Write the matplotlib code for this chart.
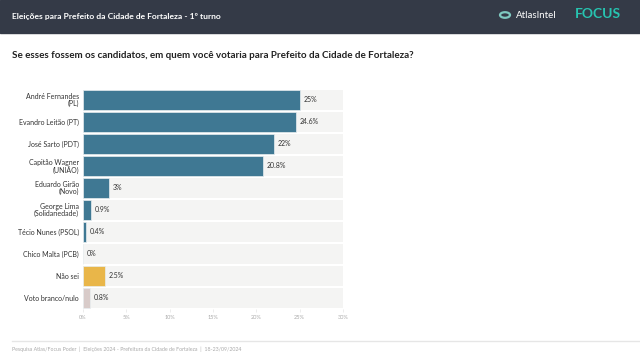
import matplotlib.pyplot as plt
from matplotlib.patches import Rectangle, Circle

plt.rcParams['font.family'] = ['Lato', 'DejaVu Sans']

candidates = ["André Fernandes\n(PL)", "Evandro Leitão (PT)", "José Sarto (PDT)",
              "Capitão Wagner\n(UNIÃO)", "Eduardo Girão\n(Novo)", "George Lima\n(Solidariedade)",
              "Técio Nunes (PSOL)", "Chico Malta (PCB)", "Não sei", "Voto branco/nulo"]
values = [25, 24.6, 22, 20.8, 3, 0.9, 0.4, 0, 2.5, 0.8]
labels = ["25%", "24.6%", "22%", "20.8%", "3%", "0.9%", "0.4%", "0%", "2.5%", "0.8%"]
colors = ["#3f7893"] * 8 + ["#e9b649", "#d8cbc9"]
ticks = [0, 5, 10, 15, 20, 25, 30]

fig = plt.figure(figsize=(6.4, 3.58), dpi=100)

# header band
fig.patches.append(Rectangle((0, 1 - 33 / 358), 1, 33 / 358, transform=fig.transFigure,
                             color="#343a47", zorder=0))
fig.text(12 / 640, 1 - 16 / 358, "Eleições para Prefeito da Cidade de Fortaleza - 1º turno",
         color="white", fontsize=6.1, fontweight="bold", va="center", ha="left")
fig.patches.append(Circle((505 / 640, 1 - 15 / 358), 5 / 640, transform=fig.transFigure,
                          facecolor="none", edgecolor="#7ec8c0", lw=1.6))
fig.text(516 / 640, 1 - 15.5 / 358, "AtlasIntel", color="white", fontsize=7, va="center")
fig.text(575 / 640, 1 - 14 / 358, "FOCUS", color="#27c3b0", fontsize=10, fontweight="bold",
         va="center")

fig.text(12 / 640, 1 - 56 / 358,
         "Se esses fossem os candidatos, em quem você votaria para Prefeito da Cidade de Fortaleza?",
         color="#222222", fontsize=7.1, fontweight="bold", va="center")

ax = fig.add_axes([83 / 640, 1 - 309 / 358, 260 / 640, 220 / 358])
y = list(range(len(candidates)))
ax.barh(y, [30] * len(y), height=0.91, color="#f4f4f3", zorder=1)
ax.barh(y, values, height=0.91, color=colors, edgecolor="#e8eef0", linewidth=0.5, zorder=2)
for yi, v, lab in zip(y, values, labels):
    ax.text(v + 0.4, yi, lab, fontsize=5, color="#333333", va="center", ha="left", zorder=3)

ax.set_xlim(0, 30)
ax.set_ylim(len(y) - 0.5, -0.5)
ax.set_yticks(y)
ax.set_yticklabels(candidates, fontsize=5, color="#333333", linespacing=0.95)
ax.set_xticks(ticks)
ax.set_xticklabels([f"{t}%" for t in ticks], fontsize=4, color="#aaaaaa")
ax.tick_params(axis="y", length=0, pad=3)
ax.tick_params(axis="x", length=2, width=0.4, color="#dddddd", pad=2)
for s in ax.spines.values():
    s.set_visible(False)

# footer
fig.add_artist(plt.Line2D([12 / 640, 1], [1 - 341 / 358] * 2, transform=fig.transFigure,
                          color="#e6e6e6", lw=1))
fig.text(12 / 640, 1 - 349 / 358,
         "Pesquisa Atlas/Focus Poder  |  Eleições 2024 - Prefeitura da Cidade de Fortaleza  |  18-23/09/2024",
         color="#aaaaaa", fontsize=3.8, va="center")

fig.savefig("out.png", dpi=100, facecolor="white")
